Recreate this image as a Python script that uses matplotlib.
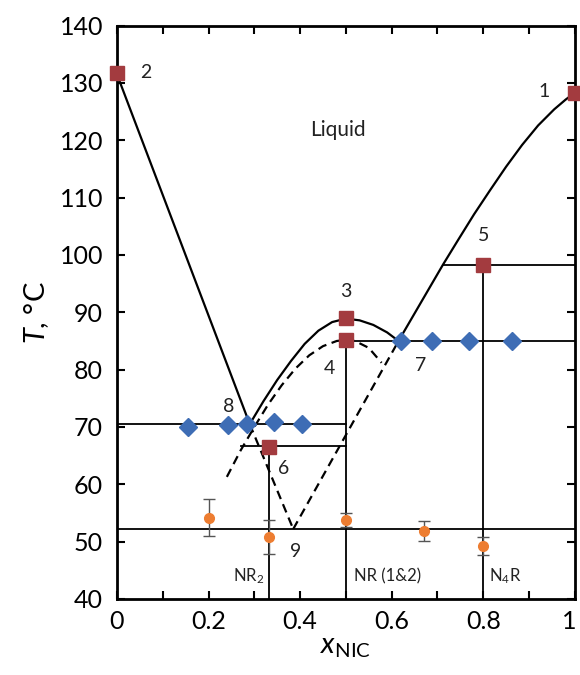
import matplotlib
matplotlib.use("Agg")
import matplotlib.pyplot as plt
from matplotlib.ticker import MultipleLocator
from matplotlib.transforms import ScaledTranslation

plt.rcParams['font.family'] = ['Lato', 'DejaVu Sans']
plt.rcParams['mathtext.fontset'] = 'custom'
plt.rcParams['mathtext.rm'] = 'Lato'
plt.rcParams['mathtext.it'] = 'Lato:italic'

# ---- data ----
# left liquidus (solid) and its metastable (dashed) extension
left_x = [0.0, 0.29]
left_T = [131.5, 70.5]
left_ext_x = [0.29, 0.385]
left_ext_T = [70.5, 52.2]
# dashed line from 9 to 7
d97_x = [0.385, 0.615]
d97_T = [52.2, 85.0]
# solid dome (NR liquidus)
dome_x = [0.29, 0.32, 0.35, 0.38, 0.41, 0.44, 0.47, 0.50, 0.53, 0.56, 0.59, 0.615]
dome_T = [70.5, 74.5, 78.2, 81.5, 84.5, 86.8, 88.3, 88.9, 88.6, 87.8, 86.5, 85.0]
# dashed dome
ddome_x = [0.24, 0.27, 0.30, 0.33, 0.36, 0.39, 0.42, 0.45, 0.48, 0.50, 0.52, 0.55, 0.578]
ddome_T = [61.3, 65.9, 70.0, 73.9, 77.3, 80.2, 82.5, 84.1, 85.0, 85.2, 85.0, 83.8, 81.2]
# right liquidus
right_x = [0.615, 0.65, 0.685, 0.712, 0.745, 0.78, 0.815, 0.85, 0.885, 0.92, 0.955, 0.98, 1.0]
right_T = [85.0, 89.8, 94.6, 98.3, 102.6, 107.1, 111.3, 115.4, 119.2, 122.6, 125.4, 127.1, 128.3]

# horizontal tie lines: (x_start, x_end, T)
hline_x0 = [0.0, 0.27, 0.5, 0.712, 0.0]
hline_x1 = [0.5, 0.5, 1.0, 1.0, 1.0]
hline_T = [70.5, 66.7, 85.0, 98.3, 52.2]
# vertical lines: (x, T_top)
vline_x = [0.333, 0.5, 0.8]
vline_T = [66.5, 85.2, 98.3]

# red squares: melting / peritectic points
sq_x = [0.0, 1.0, 0.5, 0.5, 0.8, 0.333]
sq_T = [131.8, 128.3, 89.0, 85.2, 98.3, 66.5]
# blue diamonds: eutectic events
dia1_x = [0.155, 0.242, 0.285, 0.343, 0.405]
dia1_T = [70.0, 70.3, 70.6, 70.8, 70.6]
dia2_x = [0.621, 0.689, 0.769, 0.863]
dia2_T = [85.0, 85.0, 85.0, 85.0]
# orange circles with error bars
or_x = [0.2, 0.333, 0.5, 0.67, 0.8]
or_T = [54.2, 50.8, 53.8, 51.9, 49.2]
or_err = [3.2, 3.0, 1.2, 1.7, 1.6]

# labels
lab_text = ['1', '2', '3', '4', '5', '6', '7', '8', '9']
lab_x = [0.934, 0.062, 0.5, 0.465, 0.8, 0.365, 0.664, 0.245, 0.39]
lab_T = [128.6, 131.8, 93.6, 80.2, 103.4, 62.8, 80.8, 73.6, 48.3]

phase_text = ['NR$_2$', 'NR (1&2)', 'N$_4$R']
phase_x = [0.322, 0.517, 0.812]
phase_T = [44.0, 44.0, 44.0]

xticks = [0, 0.2, 0.4, 0.6, 0.8, 1.0]
xticklabels = ['0', '0.2', '0.4', '0.6', '0.8', '1']
yticks = [40, 50, 60, 70, 80, 90, 100, 110, 120, 130, 140]

# ---- plot ----
fig = plt.figure(figsize=(5.8, 6.75), dpi=100)
ax = fig.add_axes([0.2017, 0.1126, 0.7893, 0.8494])

lc = 'black'
dash = (0, (4, 2.5))
ax.plot(left_x, left_T, color=lc, lw=1.6, zorder=2)
ax.plot(left_ext_x, left_ext_T, color=lc, lw=1.6, ls=dash, zorder=2)
ax.plot(d97_x, d97_T, color=lc, lw=1.6, ls=dash, zorder=2)
ax.plot(dome_x, dome_T, color=lc, lw=1.6, zorder=2, solid_joinstyle='round')
ax.plot(ddome_x, ddome_T, color=lc, lw=1.6, ls=dash, zorder=2)
ax.plot(right_x, right_T, color=lc, lw=1.6, zorder=2, solid_joinstyle='round')

for x0, x1, t in zip(hline_x0, hline_x1, hline_T):
    ax.plot([x0, x1], [t, t], color=lc, lw=1.3, zorder=2)
for x, t in zip(vline_x, vline_T):
    ax.plot([x, x], [40, t], color=lc, lw=1.3, zorder=2)

ax.errorbar(or_x, or_T, yerr=or_err, fmt='o', color='#ED7D31', ecolor='#555555',
            elinewidth=1.0, capsize=4, capthick=1.0, markersize=7, zorder=4)
ax.plot(dia1_x, dia1_T, 'D', color='#3E6DB5', markersize=9, zorder=4, clip_on=False)
ax.plot(dia2_x, dia2_T, 'D', color='#3E6DB5', markersize=9, zorder=4, clip_on=False)
ax.plot(sq_x, sq_T, 's', color='#A33B3F', markersize=9.5, zorder=5, clip_on=False)

for t, x, y in zip(lab_text, lab_x, lab_T):
    ax.text(x, y, t, fontsize=14, ha='center', va='center', color='#222222', zorder=6)
ax.text(0.483, 121.8, 'Liquid', fontsize=15, ha='center', va='center', color='#222222')
for t, x, y in zip(phase_text, phase_x, phase_T):
    ax.text(x, y, t, fontsize=12, ha='right' if t.startswith('NR$') else 'left',
            va='center', color='#222222')

ax.set_xlim(0, 1)
ax.set_ylim(40, 140)
ax.set_xticks(xticks)
ax.set_xticklabels(xticklabels)
ax.xaxis.set_minor_locator(MultipleLocator(0.1))
ax.set_yticks(yticks)
ax.tick_params(which='both', direction='in', top=True, right=True, length=6, width=1.5,
               labelsize=18, colors='black', pad=8)
ax.tick_params(axis='y', pad=10)
for s in ax.spines.values():
    s.set_linewidth(2.0)

# keep the last x tick label inside the figure
last = ax.get_xticklabels()[-1]
last.set_transform(last.get_transform() + ScaledTranslation(-4 / 72, 0, fig.dpi_scale_trans))

ax.set_xlabel(r'$x_{\mathrm{NIC}}$', fontsize=21, labelpad=1)
ax.set_ylabel(r'$T$, °C', fontsize=21, labelpad=6)

fig.savefig('out.png', dpi=100)
